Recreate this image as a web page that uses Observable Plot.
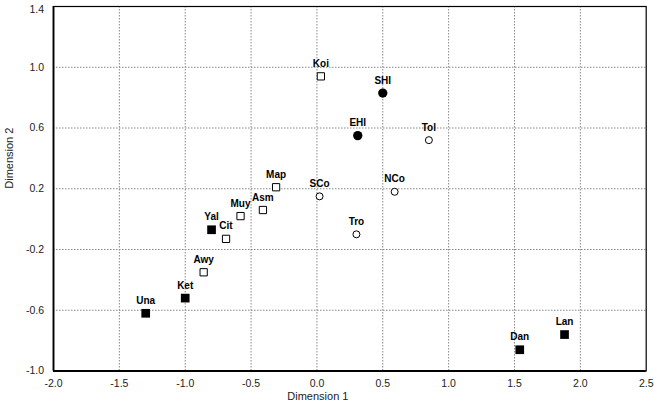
<!DOCTYPE html>
<html>
<head>
<meta charset="utf-8">
<script src="https://cdn.jsdelivr.net/npm/d3@7"></script>
<script src="https://cdn.jsdelivr.net/npm/@observablehq/plot@0.6"></script>
<style>
  html, body { margin: 0; padding: 0; background: #fff; }
</style>
</head>
<body>
<div id="chart"></div>
<script>
// Data
const names = ["Una","Ket","Awy","Yal","Cit","Muy","Asm","Map","Koi","SCo","Tro","NCo","EHI","SHI","Tol","Dan","Lan"];
const dim1  = [-1.30,-1.00,-0.86,-0.80,-0.69,-0.58,-0.41,-0.31,0.03,0.02,0.30,0.59,0.31,0.50,0.85,1.54,1.88];
const dim2  = [-0.62,-0.52,-0.35,-0.07,-0.13,0.02,0.06,0.21,0.94,0.15,-0.10,0.18,0.55,0.83,0.52,-0.86,-0.76];
// S = filled square, s = open square, C = filled circle, c = open circle
const kinds = ["S","S","s","S","s","s","s","s","s","c","c","c","C","C","c","S","S"];

const xTicks = [-2.0,-1.5,-1.0,-0.5,0.0,0.5,1.0,1.5,2.0,2.5];
const yTicks = [-1.0,-0.6,-0.2,0.2,0.6,1.0,1.4];
const xLabel = "Dimension 1";
const yLabel = "Dimension 2";

const data = names.map((n, i) => ({name: n, d1: dim1[i], d2: dim2[i], kind: kinds[i]}));
const of = k => data.filter(d => d.kind === k);

const font = "Liberation Sans, Arial, Helvetica, sans-serif";

const chart = Plot.plot({
  width: 654,
  height: 414,
  marginLeft: 53,
  marginTop: 6,
  marginRight: 8.3,
  marginBottom: 43.5,
  style: {fontFamily: font, background: "#fff", color: "#000"},
  x: {domain: [-2.0, 2.5], axis: null},
  y: {domain: [-1.0, 1.4], axis: null},
  marks: [
    Plot.gridX(xTicks.slice(1, -1), {stroke: "#888", strokeOpacity: 1, strokeDasharray: "1.5,1.5", strokeWidth: 1}),
    Plot.gridY(yTicks.slice(1, -1), {stroke: "#888", strokeOpacity: 1, strokeDasharray: "1.5,1.5", strokeWidth: 1}),
    Plot.frame({stroke: "#000", strokeWidth: 1.2}),
    Plot.ruleX([-2.0], {stroke: "#000", strokeWidth: 1.8}),
    Plot.ruleY([-1.0], {stroke: "#000", strokeWidth: 1.8}),
    // tick labels
    Plot.text(xTicks, {x: d => d, frameAnchor: "bottom", dy: 12.5, text: d => d.toFixed(1),
      fontSize: 10.5, fill: "#222", lineAnchor: "middle"}),
    Plot.text(yTicks.filter(d => d < 1.4), {y: d => d, frameAnchor: "left", dx: -9.5, textAnchor: "end",
      text: d => d.toFixed(1), fontSize: 10.5, fill: "#222", lineAnchor: "middle"}),
    Plot.text(yTicks.filter(d => d >= 1.4), {y: d => d, frameAnchor: "left", dx: -9.5, dy: 3.5, textAnchor: "end",
      text: d => d.toFixed(1), fontSize: 10.5, fill: "#222", lineAnchor: "middle"}),
    // axis titles
    Plot.text([xLabel], {frameAnchor: "bottom", dx: -32, dy: 25, fontSize: 11, fill: "#222", lineAnchor: "middle"}),
    Plot.text([yLabel], {frameAnchor: "left", dx: -44, rotate: -90, fontSize: 11, fill: "#222", lineAnchor: "middle"}),
    // points
    Plot.dot(of("S"), {x: "d1", y: "d2", symbol: "square", r: 4.9, fill: "#000", stroke: "none"}),
    Plot.dot(of("s"), {x: "d1", y: "d2", symbol: "square", r: 4.1, fill: "#fff", stroke: "#000", strokeWidth: 1}),
    Plot.dot(of("C"), {x: "d1", y: "d2", symbol: "circle", r: 4.65, fill: "#000", stroke: "none"}),
    Plot.dot(of("c"), {x: "d1", y: "d2", symbol: "circle", r: 3.5, fill: "#fff", stroke: "#000", strokeWidth: 1}),
    // point labels
    Plot.text(data, {x: "d1", y: "d2", text: "name", dy: -12.7, fontSize: 10, fontWeight: "bold",
      fill: "#000", lineAnchor: "middle"})
  ]
});

document.getElementById("chart").appendChild(chart);
</script>
</body>
</html>
